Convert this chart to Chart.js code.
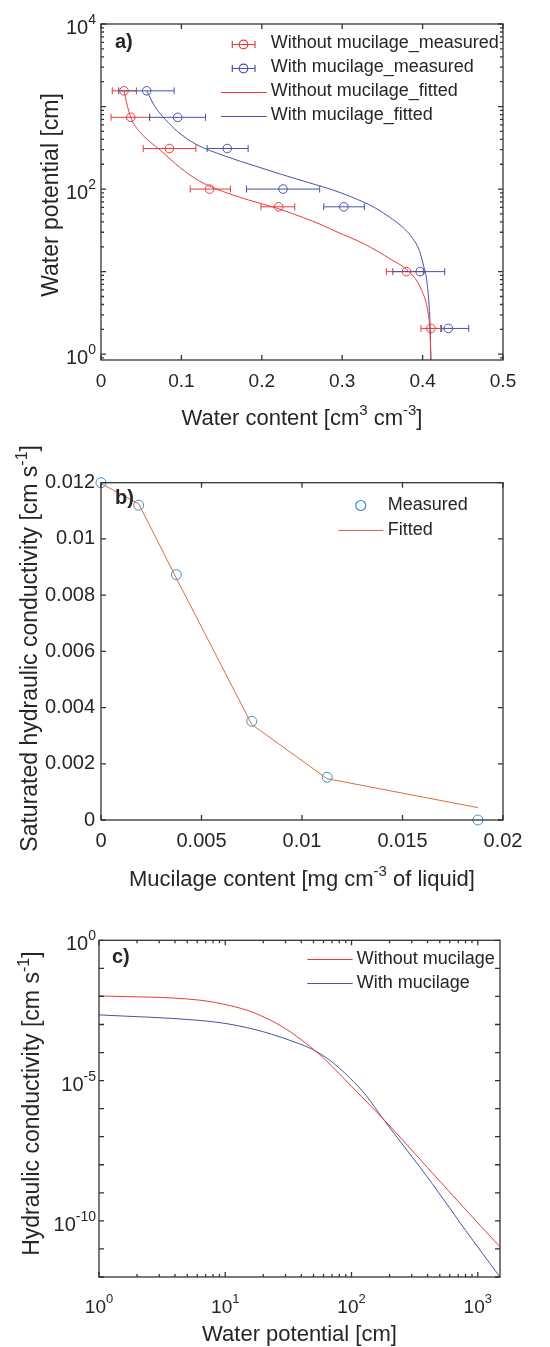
<!DOCTYPE html>
<html lang="en">
<head>
<meta charset="utf-8">
<title>Mucilage and soil hydraulic properties</title>
<script src="https://cdn.jsdelivr.net/npm/chart.js@4.4.1/dist/chart.umd.min.js"></script>
<style>
  html, body { margin: 0; padding: 0; background: #ffffff; }
  #page { position: relative; width: 550px; height: 1347px; overflow: hidden; }
  canvas { position: absolute; left: 0; }
  #chartA { top: 0; }
  #chartB { top: 432px; }
  #chartC { top: 900px; }
</style>
</head>
<body>
<div id="page">
  <canvas id="chartA" width="550" height="432"></canvas>
  <canvas id="chartB" width="550" height="468"></canvas>
  <canvas id="chartC" width="550" height="447"></canvas>
</div>
<script>
// a) water retention: potential h [cm] against water content [cm3 cm-3]
const headMeasured = [1550, 740, 310, 100, 61, 10, 2.05];
const thetaWithoutMeasured = [0.0286, 0.037, 0.085, 0.135, 0.221, 0.380, 0.4104];
const thetaWithoutLow = [0.014, 0.0125, 0.0525, 0.111, 0.199, 0.355, 0.398];
const thetaWithoutHigh = [0.044, 0.0605, 0.118, 0.161, 0.241, 0.401, 0.4225];
const thetaWithMeasured = [0.0568, 0.0954, 0.157, 0.2264, 0.302, 0.397, 0.432];
const thetaWithLow = [0.022, 0.0605, 0.132, 0.181, 0.277, 0.363, 0.4237];
const thetaWithHigh = [0.091, 0.130, 0.183, 0.272, 0.3275, 0.4275, 0.4573];

const headFitWithout = [1550, 1000, 700, 460, 300, 180, 124, 94, 74, 59, 45, 37, 31, 21.5, 14, 10, 5.9, 3.1, 2, 0.85];
const thetaFitWithout = [0.0286, 0.033, 0.038, 0.051, 0.073, 0.099, 0.123, 0.151, 0.183, 0.218, 0.252, 0.274, 0.291, 0.328, 0.361, 0.383, 0.399, 0.407, 0.409, 0.4104];
const headFitWith = [1550, 1000, 700, 500, 350, 250, 190, 150, 120, 100, 80, 60, 45, 34, 25, 18, 12, 8, 4, 2, 0.85];
const thetaFitWith = [0.057, 0.067, 0.080, 0.095, 0.118, 0.155, 0.192, 0.225, 0.258, 0.285, 0.312, 0.340, 0.360, 0.376, 0.388, 0.396, 0.401, 0.405, 0.408, 0.4095, 0.4103];

const thetaTicks = [0, 0.1, 0.2, 0.3, 0.4, 0.5];
const headLabelValues = [1, 100, 10000];
const headLabelExps = ['0', '2', '4'];

// b) saturated conductivity against mucilage content
const mucilage = [0, 0.001875, 0.00375, 0.0075, 0.01125, 0.01875];
const ksatMeasured = [0.012, 0.0112, 0.00873, 0.00351, 0.00152, 0];
const ksatFitted = [0.01197, 0.01125, 0.0086, 0.0034, 0.00147, 0.00044];
const mucilageTicks = [0, 0.005, 0.01, 0.015, 0.02];
const ksatTicks = [0, 0.002, 0.004, 0.006, 0.008, 0.01, 0.012];

// c) unsaturated conductivity against water potential
const headKWithout = [1, 6.2, 10.9, 16.6, 28.6, 49, 63, 100, 176, 400, 1000, 1500];
const kWithout = [1.05e-2, 7.4e-3, 4.7e-3, 2.7e-3, 8.1e-4, 1.4e-4, 5.2e-5, 6.2e-6, 4.6e-7, 7.9e-9, 8.5e-11, 1.2e-11];
const headKWith = [1, 6.2, 10.9, 20, 37, 49, 67, 96, 130, 176, 437, 803, 1500];
const kWith = [2.2e-3, 1.4e-3, 1.02e-3, 5.5e-4, 2.2e-4, 1.3e-4, 5.4e-5, 1.3e-5, 3.0e-6, 4.6e-7, 2.1e-9, 4.5e-11, 1.0e-12];

const headKLabelValues = [1, 10, 100, 1000];
const headKLabelExps = ['0', '1', '2', '3'];
const kLabelValues = [1, 1e-5, 1e-10];
const kLabelExps = ['0', '-5', '-10'];

const RED = '#ec3a3a';
const BLUE = '#4652ad';
const SKY = '#3d8fd1';
const ORANGE = '#e36a38';
const INK = '#262626';
const FONT = '"Liberation Sans", Arial, Helvetica, sans-serif';

Chart.defaults.font.family = FONT;
Chart.defaults.color = INK;

function fmt(v) {
    return String(parseFloat(v.toFixed(6)));
}

function pairs(xs, ys) {
    return xs.map((x, i) => ({ x: x, y: ys[i] }));
}

// tick positions for a log axis, with 2..9 minor steps if asked
function logTicks(min, max, withMinor) {
    const out = [];
    const steps = withMinor ? [1, 2, 3, 4, 5, 6, 7, 8, 9] : [1];
    for (let e = Math.floor(Math.log10(min)); e <= Math.ceil(Math.log10(max)); e++) {
        steps.forEach(m => {
            const v = m * Math.pow(10, e);
            if (v >= min * 0.999 && v <= max * 1.001) out.push({ value: v, minor: m !== 1 });
        });
    }
    return out;
}

// split 'cm^{-3}' style text into plain and superscript runs
function richParts(text) {
    const out = [];
    const re = /\^\{([^}]*)\}/g;
    let last = 0, m;
    while ((m = re.exec(text))) {
        if (m.index > last) out.push({ t: text.slice(last, m.index), sup: false });
        out.push({ t: m[1], sup: true });
        last = re.lastIndex;
    }
    if (last < text.length) out.push({ t: text.slice(last), sup: false });
    return out;
}

function drawRich(ctx, text, cx, cy, size, rotate) {
    const parts = richParts(text);
    const supSize = Math.round(size * 0.7);
    let w = 0;
    parts.forEach(p => {
        ctx.font = (p.sup ? supSize : size) + 'px ' + FONT;
        p.w = ctx.measureText(p.t).width;
        w += p.w;
    });
    ctx.save();
    ctx.translate(cx, cy);
    if (rotate) ctx.rotate(-Math.PI / 2);
    ctx.fillStyle = INK;
    ctx.textAlign = 'left';
    ctx.textBaseline = 'alphabetic';
    const yb = size * 0.35;
    let x = -w / 2;
    parts.forEach(p => {
        ctx.font = (p.sup ? supSize : size) + 'px ' + FONT;
        ctx.fillText(p.t, x, p.sup ? yb - size * 0.45 : yb);
        x += p.w;
    });
    ctx.restore();
}

// horizontal error bars, under the markers
const errorBars = {
    id: 'errorBars',
    beforeDatasetsDraw(chart) {
        const ctx = chart.ctx, sx = chart.scales.x, sy = chart.scales.y;
        chart.data.datasets.forEach(ds => {
            if (!ds.xLow) return;
            ctx.save();
            ctx.strokeStyle = ds.borderColor;
            ctx.lineWidth = 1;
            ctx.beginPath();
            ds.data.forEach((p, i) => {
                const x0 = sx.getPixelForValue(ds.xLow[i]);
                const x1 = sx.getPixelForValue(ds.xHigh[i]);
                const y = sy.getPixelForValue(p.y);
                ctx.moveTo(x0, y); ctx.lineTo(x1, y);
                ctx.moveTo(x0, y - 3.5); ctx.lineTo(x0, y + 3.5);
                ctx.moveTo(x1, y - 3.5); ctx.lineTo(x1, y + 3.5);
            });
            ctx.stroke();
            ctx.restore();
        });
    }
};

// box round the plot with inward ticks on all four sides, plus panel letter
const boxAxes = {
    id: 'boxAxes',
    afterDatasetsDraw(chart, args, o) {
        const ctx = chart.ctx, a = chart.chartArea;
        const sx = chart.scales.x, sy = chart.scales.y;
        ctx.save();
        ctx.strokeStyle = '#333333';
        ctx.lineWidth = 1.3;
        ctx.beginPath();
        sx.ticks.forEach(t => {
            const px = sx.getPixelForValue(t.value);
            const len = t.minor ? o.minorLen : o.majorLen;
            ctx.moveTo(px, a.bottom); ctx.lineTo(px, a.bottom - len);
            ctx.moveTo(px, a.top); ctx.lineTo(px, a.top + len);
        });
        sy.ticks.forEach(t => {
            const py = sy.getPixelForValue(t.value);
            const len = t.minor ? o.minorLen : o.majorLen;
            ctx.moveTo(a.left, py); ctx.lineTo(a.left + len, py);
            ctx.moveTo(a.right, py); ctx.lineTo(a.right - len, py);
        });
        ctx.stroke();
        ctx.strokeRect(a.left, a.top, a.right - a.left, a.bottom - a.top);
        ctx.fillStyle = INK;
        ctx.font = 'bold 20px ' + FONT;
        ctx.textBaseline = 'middle';
        ctx.fillText(o.label, o.labelX, o.labelY);
        ctx.restore();
    }
};

// axis titles with real superscripts
const axisTitles = {
    id: 'axisTitles',
    afterDraw(chart, args, o) {
        const a = chart.chartArea;
        drawRich(chart.ctx, o.x.text, (a.left + a.right) / 2, o.x.y, o.x.size, false);
        drawRich(chart.ctx, o.y.text, o.y.x, (a.top + a.bottom) / 2 + o.y.shift, o.y.size, true);
    }
};

// "10" with a raised exponent for the log axes
const powerLabels = {
    id: 'powerLabels',
    afterDraw(chart, args, o) {
        const ctx = chart.ctx, a = chart.chartArea;
        ctx.save();
        ctx.fillStyle = INK;
        ctx.textBaseline = 'alphabetic';
        ctx.textAlign = 'left';
        const part = (p, scale, vertical) => {
            if (!p) return;
            p.values.forEach((v, i) => {
                const pix = scale.getPixelForValue(v);
                ctx.font = p.size + 'px ' + FONT;
                const wb = ctx.measureText('10').width;
                ctx.font = p.expSize + 'px ' + FONT;
                const we = ctx.measureText(p.exps[i]).width;
                let x0, yb;
                if (vertical) {
                    x0 = a.left - p.pad - we - wb;
                    yb = pix + (p.raise + 0.716 * p.expSize) / 2;
                } else {
                    x0 = pix - (wb + we) / 2;
                    yb = a.bottom + p.baseline;
                }
                ctx.font = p.size + 'px ' + FONT;
                ctx.fillText('10', x0, yb);
                ctx.font = p.expSize + 'px ' + FONT;
                ctx.fillText(p.exps[i], x0 + wb, yb - p.raise);
            });
        };
        part(o.x, chart.scales.x, false);
        part(o.y, chart.scales.y, true);
        ctx.restore();
    }
};

// legend without a frame, placed inside the axes
const insetLegend = {
    id: 'insetLegend',
    afterDraw(chart, args, o) {
        const ctx = chart.ctx;
        ctx.save();
        ctx.font = '18px ' + FONT;
        ctx.textBaseline = 'middle';
        o.order.forEach((dsIndex, i) => {
            const ds = chart.data.datasets[dsIndex];
            const icon = o.icons[i];
            const y = o.top + i * o.step;
            const yl = Math.round(y) + 0.5;
            ctx.strokeStyle = ds.borderColor;
            ctx.lineWidth = 1.2;
            ctx.beginPath();
            if (icon === 'line') {
                ctx.moveTo(o.lineFrom, yl); ctx.lineTo(o.lineTo, yl);
            }
            if (icon === 'errorbar') {
                ctx.moveTo(o.barFrom, yl); ctx.lineTo(o.barTo, yl);
                ctx.moveTo(o.barFrom, yl - 3.5); ctx.lineTo(o.barFrom, yl + 3.5);
                ctx.moveTo(o.barTo, yl - 3.5); ctx.lineTo(o.barTo, yl + 3.5);
            }
            ctx.stroke();
            if (icon !== 'line') {
                ctx.beginPath();
                ctx.arc(o.markX, yl, ds.pointRadius, 0, 2 * Math.PI);
                ctx.stroke();
            }
            ctx.fillStyle = INK;
            ctx.fillText(ds.label, o.textX, y);
        });
        ctx.restore();
    }
};

function axisBase(extra) {
    return Object.assign({
        grid: { display: false, drawTicks: false },
        border: { display: false }
    }, extra);
}

// ---------- panel a ----------
new Chart(document.getElementById('chartA'), {
    type: 'line',
    data: {
        datasets: [
            {
                label: 'Without mucilage_measured',
                data: pairs(thetaWithoutMeasured, headMeasured),
                xLow: thetaWithoutLow, xHigh: thetaWithoutHigh,
                showLine: false, borderColor: RED, backgroundColor: 'rgba(0,0,0,0)',
                pointRadius: 4.3, pointBorderWidth: 1, pointBackgroundColor: 'rgba(0,0,0,0)'
            },
            {
                label: 'With mucilage_measured',
                data: pairs(thetaWithMeasured, headMeasured),
                xLow: thetaWithLow, xHigh: thetaWithHigh,
                showLine: false, borderColor: BLUE, backgroundColor: 'rgba(0,0,0,0)',
                pointRadius: 4.3, pointBorderWidth: 1, pointBackgroundColor: 'rgba(0,0,0,0)'
            },
            {
                label: 'Without mucilage_fitted',
                data: pairs(thetaFitWithout, headFitWithout),
                borderColor: RED, borderWidth: 1, pointRadius: 0,
                cubicInterpolationMode: 'monotone'
            },
            {
                label: 'With mucilage_fitted',
                data: pairs(thetaFitWith, headFitWith),
                borderColor: BLUE, borderWidth: 1, pointRadius: 0,
                cubicInterpolationMode: 'monotone'
            }
        ]
    },
    options: {
        responsive: false,
        animation: false,
        events: [],
        layout: { padding: { top: 24, right: 47, bottom: 0, left: 0 } },
        plugins: {
            legend: { display: false },
            tooltip: { enabled: false },
            boxAxes: { label: 'a)', labelX: 115, labelY: 42, majorLen: 5, minorLen: 3 },
            axisTitles: {
                x: { text: 'Water content [cm^{3} cm^{-3}]', y: 417, size: 22 },
                y: { text: 'Water potential [cm]', x: 50, shift: 3, size: 23 }
            },
            powerLabels: {
                y: { values: headLabelValues, exps: headLabelExps, size: 20, expSize: 14, raise: 10, pad: 5 }
            },
            insetLegend: {
                order: [0, 1, 2, 3],
                icons: ['errorbar', 'errorbar', 'line', 'line'],
                top: 43.5, step: 24, barFrom: 232.3, barTo: 255, markX: 243.5,
                lineFrom: 221, lineTo: 266.7, textX: 270.7
            }
        },
        scales: {
            x: axisBase({
                type: 'linear', min: 0, max: 0.5,
                afterBuildTicks: s => { s.ticks = thetaTicks.map(v => ({ value: v })); },
                afterFit: s => { s.height = 72; },
                ticks: { font: { size: 19 }, padding: 10, maxRotation: 0, autoSkip: false, callback: v => fmt(v) }
            }),
            y: axisBase({
                type: 'logarithmic', min: 0.85, max: 10000,
                afterBuildTicks: s => { s.ticks = logTicks(0.85, 10000, true); },
                afterFit: s => { s.width = 101; },
                ticks: { display: false }
            })
        }
    },
    plugins: [errorBars, boxAxes, axisTitles, powerLabels, insetLegend]
});

// ---------- panel b ----------
new Chart(document.getElementById('chartB'), {
    type: 'line',
    data: {
        datasets: [
            {
                label: 'Measured',
                data: pairs(mucilage, ksatMeasured),
                showLine: false, borderColor: SKY, backgroundColor: 'rgba(0,0,0,0)',
                pointRadius: 5, pointBorderWidth: 1, pointBackgroundColor: 'rgba(0,0,0,0)',
                clip: false
            },
            {
                label: 'Fitted',
                data: pairs(mucilage, ksatFitted),
                borderColor: ORANGE, borderWidth: 1, pointRadius: 0, tension: 0
            }
        ]
    },
    options: {
        responsive: false,
        animation: false,
        events: [],
        layout: { padding: { top: 50.7, right: 47, bottom: 0, left: 0 } },
        plugins: {
            legend: { display: false },
            tooltip: { enabled: false },
            boxAxes: { label: 'b)', labelX: 115, labelY: 66, majorLen: 5, minorLen: 3 },
            axisTitles: {
                x: { text: 'Mucilage content [mg cm^{-3} of liquid]', y: 446, size: 22 },
                y: { text: 'Saturated hydraulic conductivity [cm s^{-1}]', x: 29, shift: -3, size: 23 }
            },
            insetLegend: {
                order: [0, 1],
                icons: ['circle', 'line'],
                top: 73.3, step: 24.7, markX: 360.7,
                lineFrom: 338.3, lineTo: 383.3, textX: 387.7
            }
        },
        scales: {
            x: axisBase({
                type: 'linear', min: 0, max: 0.02,
                afterBuildTicks: s => { s.ticks = mucilageTicks.map(v => ({ value: v })); },
                afterFit: s => { s.height = 80; },
                ticks: { font: { size: 20 }, padding: 9.7, maxRotation: 0, autoSkip: false, callback: v => fmt(v) }
            }),
            y: axisBase({
                type: 'linear', min: 0, max: 0.012,
                afterBuildTicks: s => { s.ticks = ksatTicks.map(v => ({ value: v })); },
                afterFit: s => { s.width = 101; },
                ticks: { font: { size: 20 }, padding: 6, autoSkip: false, callback: v => fmt(v) }
            })
        }
    },
    plugins: [boxAxes, axisTitles, insetLegend]
});

// ---------- panel c ----------
new Chart(document.getElementById('chartC'), {
    type: 'line',
    data: {
        datasets: [
            {
                label: 'Without mucilage',
                data: pairs(headKWithout, kWithout),
                borderColor: RED, borderWidth: 1, pointRadius: 0,
                cubicInterpolationMode: 'monotone'
            },
            {
                label: 'With mucilage',
                data: pairs(headKWith, kWith),
                borderColor: BLUE, borderWidth: 1, pointRadius: 0,
                cubicInterpolationMode: 'monotone'
            }
        ]
    },
    options: {
        responsive: false,
        animation: false,
        events: [],
        layout: { padding: { top: 40.3, right: 50, bottom: 0, left: 0 } },
        plugins: {
            legend: { display: false },
            tooltip: { enabled: false },
            boxAxes: { label: 'c)', labelX: 112, labelY: 57, majorLen: 5, minorLen: 3 },
            axisTitles: {
                x: { text: 'Water potential [cm]', y: 433, size: 22 },
                y: { text: 'Hydraulic conductivity [cm s^{-1}]', x: 31, shift: -5, size: 23 }
            },
            powerLabels: {
                x: { values: headKLabelValues, exps: headKLabelExps, size: 19, expSize: 13, raise: 10, baseline: 36 },
                y: { values: kLabelValues, exps: kLabelExps, size: 20, expSize: 14, raise: 10, pad: 3 }
            },
            insetLegend: {
                order: [0, 1],
                icons: ['line', 'line'],
                top: 59, step: 24.3, lineFrom: 307.3, lineTo: 352.7, textX: 356.7
            }
        },
        scales: {
            x: axisBase({
                type: 'logarithmic', min: 1, max: 1500,
                afterBuildTicks: s => { s.ticks = logTicks(1, 1500, true); },
                afterFit: s => { s.height = 70; },
                ticks: { display: false }
            }),
            y: axisBase({
                type: 'logarithmic', min: 1e-12, max: 1,
                afterBuildTicks: s => { s.ticks = logTicks(1e-12, 1, false); },
                afterFit: s => { s.width = 99; },
                ticks: { display: false }
            })
        }
    },
    plugins: [boxAxes, axisTitles, powerLabels, insetLegend]
});
</script>
</body>
</html>
